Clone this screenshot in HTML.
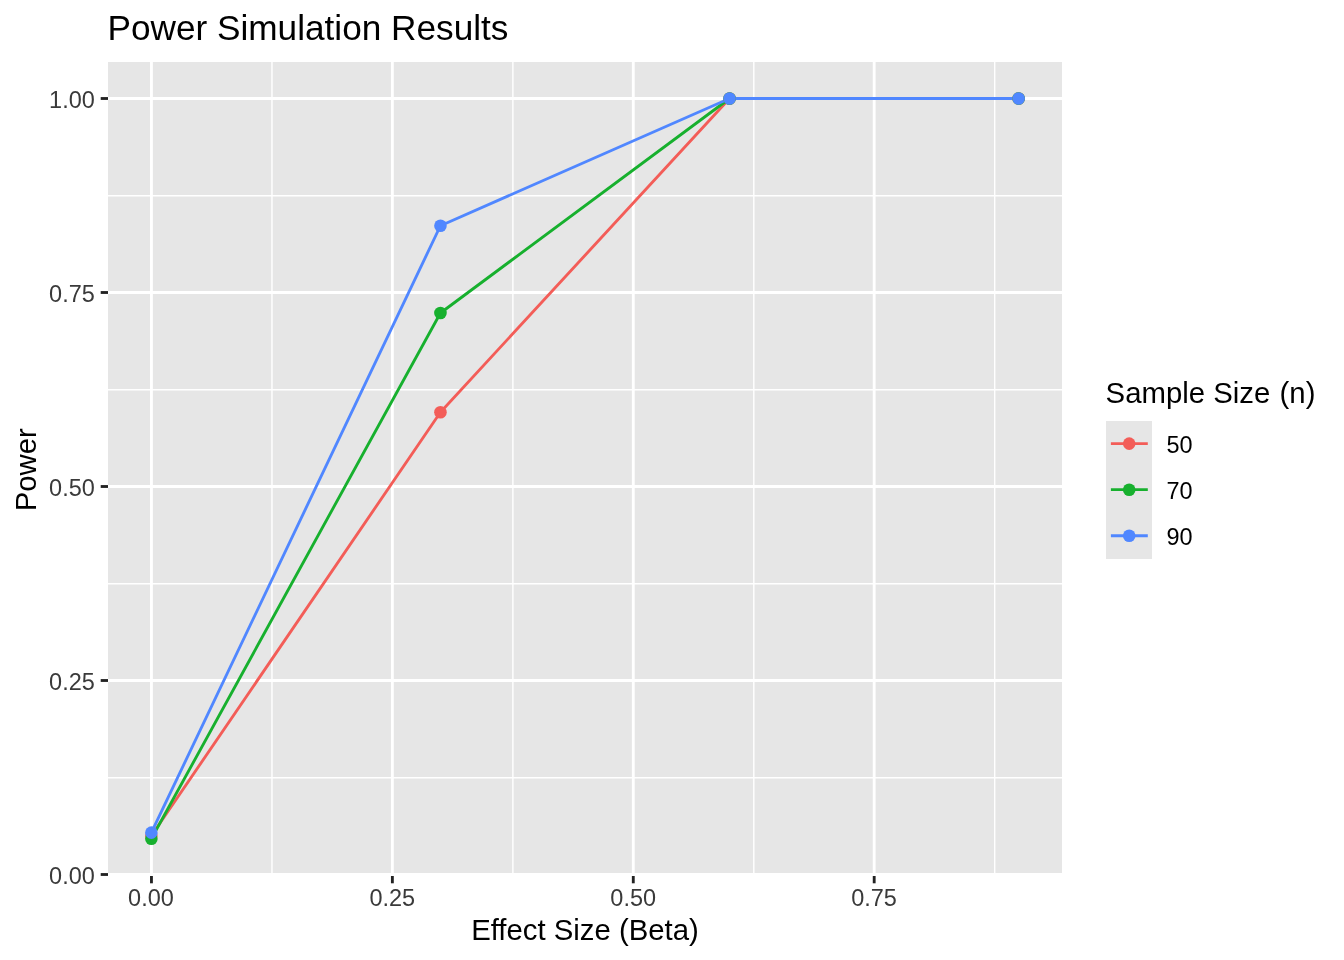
<!DOCTYPE html>
<html lang="en"><head><meta charset="utf-8"><title>Power Simulation Results</title>
<style>html,body{margin:0;padding:0;background:#fff;overflow:hidden}svg{display:block}text{font-family:"Liberation Sans",Arial,Helvetica,sans-serif}</style></head><body>
<svg width="1344" height="960" viewBox="0 0 1344 960">
<rect width="1344" height="960" fill="#fff"/>
<rect x="108" y="62" width="954" height="811" fill="#E6E6E6"/>
<defs><clipPath id="p"><rect x="108" y="62" width="954" height="813.9"/></clipPath></defs>
<g clip-path="url(#p)" stroke="#fff" fill="none">
<line x1="108" x2="1062" y1="777.80" y2="777.80" stroke-width="1.43"/>
<line y1="62" y2="873" x1="271.97" x2="271.97" stroke-width="1.43"/>
<line x1="108" x2="1062" y1="583.80" y2="583.80" stroke-width="1.43"/>
<line y1="62" y2="873" x1="512.88" x2="512.88" stroke-width="1.43"/>
<line x1="108" x2="1062" y1="389.80" y2="389.80" stroke-width="1.43"/>
<line y1="62" y2="873" x1="753.79" x2="753.79" stroke-width="1.43"/>
<line x1="108" x2="1062" y1="195.80" y2="195.80" stroke-width="1.43"/>
<line y1="62" y2="873" x1="994.70" x2="994.70" stroke-width="1.43"/>
<line x1="108" x2="1062" y1="874.50" y2="874.50" stroke-width="2.85"/>
<line x1="108" x2="1062" y1="680.50" y2="680.50" stroke-width="2.85"/>
<line x1="108" x2="1062" y1="486.50" y2="486.50" stroke-width="2.85"/>
<line x1="108" x2="1062" y1="292.50" y2="292.50" stroke-width="2.85"/>
<line x1="108" x2="1062" y1="98.50" y2="98.50" stroke-width="2.85"/>
<line y1="62" y2="873" x1="151.46" x2="151.46" stroke-width="2.85"/>
<line y1="62" y2="873" x1="392.37" x2="392.37" stroke-width="2.85"/>
<line y1="62" y2="873" x1="633.28" x2="633.28" stroke-width="2.85"/>
<line y1="62" y2="873" x1="874.19" x2="874.19" stroke-width="2.85"/>
</g>
<g clip-path="url(#p)" fill="none" stroke-width="2.85" stroke-linejoin="round" stroke-linecap="butt">
<polyline stroke="#F35D58" points="151.36,835.70 440.45,412.24 729.55,98.50 1018.64,98.50"/>
<polyline stroke="#17B02E" points="151.36,838.73 440.45,312.99 729.55,98.50 1018.64,98.50"/>
<polyline stroke="#5087FF" points="151.36,832.67 440.45,225.76 729.55,98.50 1018.64,98.50"/>
</g><g clip-path="url(#p)">
<circle cx="151.36" cy="835.70" r="6.3" fill="#F35D58"/>
<circle cx="440.45" cy="412.24" r="6.3" fill="#F35D58"/>
<circle cx="729.55" cy="98.50" r="6.3" fill="#F35D58"/>
<circle cx="1018.64" cy="98.50" r="6.3" fill="#F35D58"/>
<circle cx="151.36" cy="838.73" r="6.3" fill="#17B02E"/>
<circle cx="440.45" cy="312.99" r="6.3" fill="#17B02E"/>
<circle cx="729.55" cy="98.50" r="6.3" fill="#17B02E"/>
<circle cx="1018.64" cy="98.50" r="6.3" fill="#17B02E"/>
<circle cx="151.36" cy="832.67" r="6.3" fill="#5087FF"/>
<circle cx="440.45" cy="225.76" r="6.3" fill="#5087FF"/>
<circle cx="729.55" cy="98.50" r="6.3" fill="#5087FF"/>
<circle cx="1018.64" cy="98.50" r="6.3" fill="#5087FF"/>
</g>
<g stroke="#222" stroke-width="2.85">
<line x1="100.7" x2="108" y1="874.50" y2="874.50"/>
<line x1="100.7" x2="108" y1="680.50" y2="680.50"/>
<line x1="100.7" x2="108" y1="486.50" y2="486.50"/>
<line x1="100.7" x2="108" y1="292.50" y2="292.50"/>
<line x1="100.7" x2="108" y1="98.50" y2="98.50"/>
<line y1="876" y2="883.3" x1="151.46" x2="151.46"/>
<line y1="876" y2="883.3" x1="392.37" x2="392.37"/>
<line y1="876" y2="883.3" x1="633.28" x2="633.28"/>
<line y1="876" y2="883.3" x1="874.19" x2="874.19"/>
</g>
<g font-size="23.47" fill="#3A3A3A">
<text x="94.8" y="883.95" text-anchor="end">0.00</text>
<text x="94.8" y="689.95" text-anchor="end">0.25</text>
<text x="94.8" y="495.95" text-anchor="end">0.50</text>
<text x="94.8" y="301.95" text-anchor="end">0.75</text>
<text x="94.8" y="107.95" text-anchor="end">1.00</text>
<text x="150.96" y="906" text-anchor="middle">0.00</text>
<text x="392.27" y="906" text-anchor="middle">0.25</text>
<text x="633.18" y="906" text-anchor="middle">0.50</text>
<text x="874.09" y="906" text-anchor="middle">0.75</text>
</g>
<text x="107.5" y="40" font-size="35.2" fill="#000">Power Simulation Results</text>
<text x="585" y="939.8" font-size="29.33" text-anchor="middle" fill="#000">Effect Size (Beta)</text>
<text transform="translate(36,469.8) rotate(-90)" font-size="29.33" text-anchor="middle" fill="#000">Power</text>
<text x="1105.6" y="403" font-size="29.33" fill="#000">Sample Size <tspan dx="1.2">(n)</tspan></text>
<rect x="1106" y="421" width="46" height="138" fill="#E6E6E6"/>
<line x1="1110.9" x2="1147.8" y1="443.60" y2="443.60" stroke="#F35D58" stroke-width="2.85"/>
<circle cx="1129.2" cy="443.60" r="6.3" fill="#F35D58"/>
<text x="1166.5" y="453.20" font-size="23.47" fill="#000">50</text>
<line x1="1110.9" x2="1147.8" y1="489.68" y2="489.68" stroke="#17B02E" stroke-width="2.85"/>
<circle cx="1129.2" cy="489.68" r="6.3" fill="#17B02E"/>
<text x="1166.5" y="499.28" font-size="23.47" fill="#000">70</text>
<line x1="1110.9" x2="1147.8" y1="535.76" y2="535.76" stroke="#5087FF" stroke-width="2.85"/>
<circle cx="1129.2" cy="535.76" r="6.3" fill="#5087FF"/>
<text x="1166.5" y="545.36" font-size="23.47" fill="#000">90</text>
</svg></body></html>
